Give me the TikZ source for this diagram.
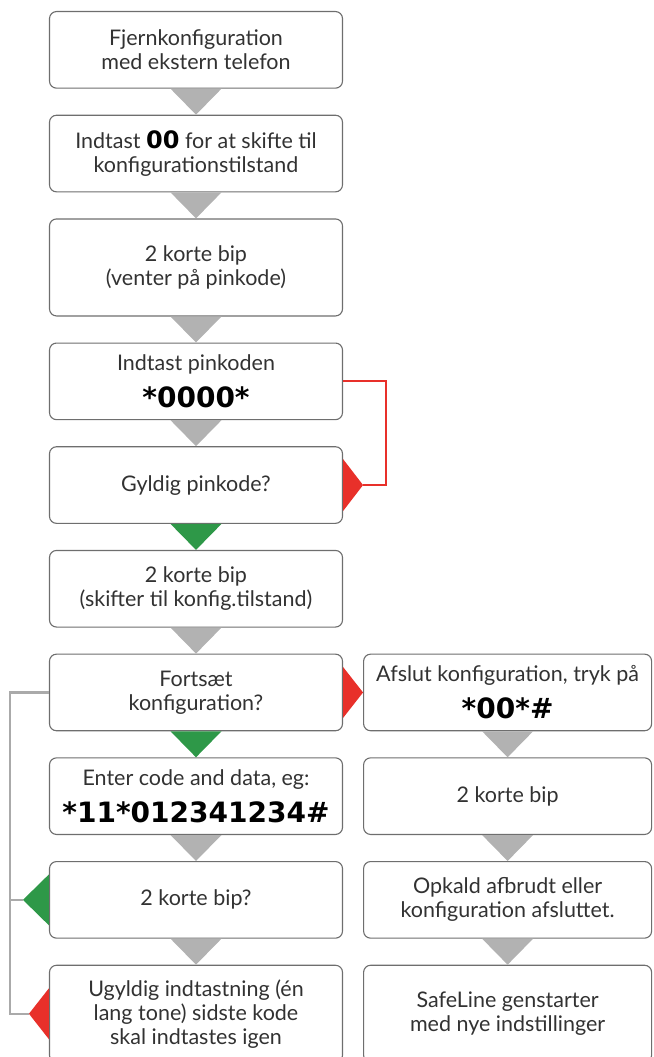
\documentclass[tikz,border=0pt]{standalone}
\usepackage{fontspec}
\setmainfont{Lato}
\newfontfamily\kodefont{DejaVu Sans}
\usetikzlibrary{positioning}

\definecolor{boxline}{RGB}{110,110,110}
\definecolor{tekst}{RGB}{50,50,50}
\definecolor{pilgraa}{RGB}{178,178,178}
\definecolor{pilgroen}{RGB}{46,152,72}
\definecolor{pilroed}{RGB}{232,48,42}
\definecolor{linjegraa}{RGB}{170,170,170}

\newcommand{\kode}[2][28]{{\kodefont\bfseries\fontsize{#1}{#1}\selectfont\color{black}#2}}

\begin{document}
\begin{tikzpicture}[
        node distance=26pt and 20pt,
        box/.style={draw=boxline, line width=1.1pt, rounded corners=7pt, fill=white, text=tekst, minimum width=293pt, minimum height=76.6pt, align=center, inner sep=0pt, font=\fontsize{21.5}{24}\selectfont},
        hbox/.style={box, minimum width=288pt},
        hoej/.style={minimum height=97pt},
        graapil/.style={fill=pilgraa},
        groenpil/.style={fill=pilgroen},
        roedpil/.style={fill=pilroed},
        roedlinje/.style={draw=pilroed, line width=2pt},
        graalinje/.style={draw=linjegraa, line width=2.5pt}
    ]
    \useasboundingbox (0,0) rectangle (653pt,-1057pt);

    % Venstre kolonne
    \node (fjern) [box] at (196pt,-49.85pt) {Fjernkonfiguration\\med ekstern telefon};
    \node (indtast) [box, below=of fjern] {Indtast \kode[24]{00} for at skifte til\\konfigurationstilstand};
    \node (bip1) [box, hoej, below=of indtast] {2 korte bip\\(venter på pinkode)};
    \node (pinkode) [box, below=of bip1] {Indtast pinkoden\\[11pt]\kode{*0000*}};
    \node (gyldig) [box, below=of pinkode] {Gyldig pinkode?};
    \node (bip2) [box, below=of gyldig] {2 korte bip\\(skifter til konfig.tilstand)};
    \node (fortsaet) [box, below=of bip2] {Fortsæt\\konfiguration?};
    \node (data) [box, below=of fortsaet] {Enter code and data, eg:\\[11pt]\kode{*11*012341234\#}};
    \node (bip3) [box, below=of data] {2 korte bip?};
    \node (ugyldig) [box, hoej, below=of bip3] {Ugyldig indtastning (én\\lang tone) sidste kode\\skal indtastes igen};

    % Højre kolonne
    \node (afslut) [hbox, right=of fortsaet] {Afslut konfiguration, tryk på\\[11pt]\kode{*00*\#}};
    \node (bip4) [hbox, below=of afslut] {2 korte bip};
    \node (opkald) [hbox, below=of bip4] {Opkald afbrudt eller\\konfiguration afsluttet.};
    \node (genstart) [hbox, hoej, below=of opkald] {SafeLine genstarter\\med nye indstillinger};

    % Pile ned
    \fill[graapil] ([xshift=-25.5pt]fjern.south) -- ([xshift=25.5pt]fjern.south) -- (indtast.north) -- cycle;
    \fill[graapil] ([xshift=-25.5pt]indtast.south) -- ([xshift=25.5pt]indtast.south) -- (bip1.north) -- cycle;
    \fill[graapil] ([xshift=-25.5pt]bip1.south) -- ([xshift=25.5pt]bip1.south) -- (pinkode.north) -- cycle;
    \fill[graapil] ([xshift=-25.5pt]pinkode.south) -- ([xshift=25.5pt]pinkode.south) -- (gyldig.north) -- cycle;
    \fill[groenpil] ([xshift=-25.5pt]gyldig.south) -- ([xshift=25.5pt]gyldig.south) -- (bip2.north) -- cycle;
    \fill[graapil] ([xshift=-25.5pt]bip2.south) -- ([xshift=25.5pt]bip2.south) -- (fortsaet.north) -- cycle;
    \fill[groenpil] ([xshift=-25.5pt]fortsaet.south) -- ([xshift=25.5pt]fortsaet.south) -- (data.north) -- cycle;
    \fill[graapil] ([xshift=-25.5pt]data.south) -- ([xshift=25.5pt]data.south) -- (bip3.north) -- cycle;
    \fill[graapil] ([xshift=-25.5pt]bip3.south) -- ([xshift=25.5pt]bip3.south) -- (ugyldig.north) -- cycle;
    \fill[graapil] ([xshift=-25.5pt]afslut.south) -- ([xshift=25.5pt]afslut.south) -- (bip4.north) -- cycle;
    \fill[graapil] ([xshift=-25.5pt]bip4.south) -- ([xshift=25.5pt]bip4.south) -- (opkald.north) -- cycle;
    \fill[graapil] ([xshift=-25.5pt]opkald.south) -- ([xshift=25.5pt]opkald.south) -- (genstart.north) -- cycle;

    % Sidepile og linjer
    \fill[roedpil] ([yshift=25.5pt]fortsaet.east) -- ([yshift=-25.5pt]fortsaet.east) -- (afslut.west) -- cycle;

    \coordinate (gyldigspids) at ([xshift=20pt]gyldig.east);
    \fill[roedpil] ([yshift=26pt]gyldig.east) -- ([yshift=-26pt]gyldig.east) -- (gyldigspids) -- cycle;
    \draw[roedlinje] (pinkode.east) -- ++(43pt,0) |- (gyldigspids);

    \coordinate (bipspids) at ([xshift=-26pt]bip3.west);
    \coordinate (ugyldigspids) at ([xshift=-20pt]ugyldig.west);
    \fill[groenpil] ([yshift=25.5pt]bip3.west) -- ([yshift=-25.5pt]bip3.west) -- (bipspids) -- cycle;
    \fill[roedpil] ([yshift=25.5pt]ugyldig.west) -- ([yshift=-25.5pt]ugyldig.west) -- (ugyldigspids) -- cycle;
    \draw[graalinje] (fortsaet.west) -- ++(-39pt,0) coordinate (skinne) |- (ugyldigspids);
    \draw[graalinje] (skinne |- bipspids) -- (bipspids);

\end{tikzpicture}
\end{document}
